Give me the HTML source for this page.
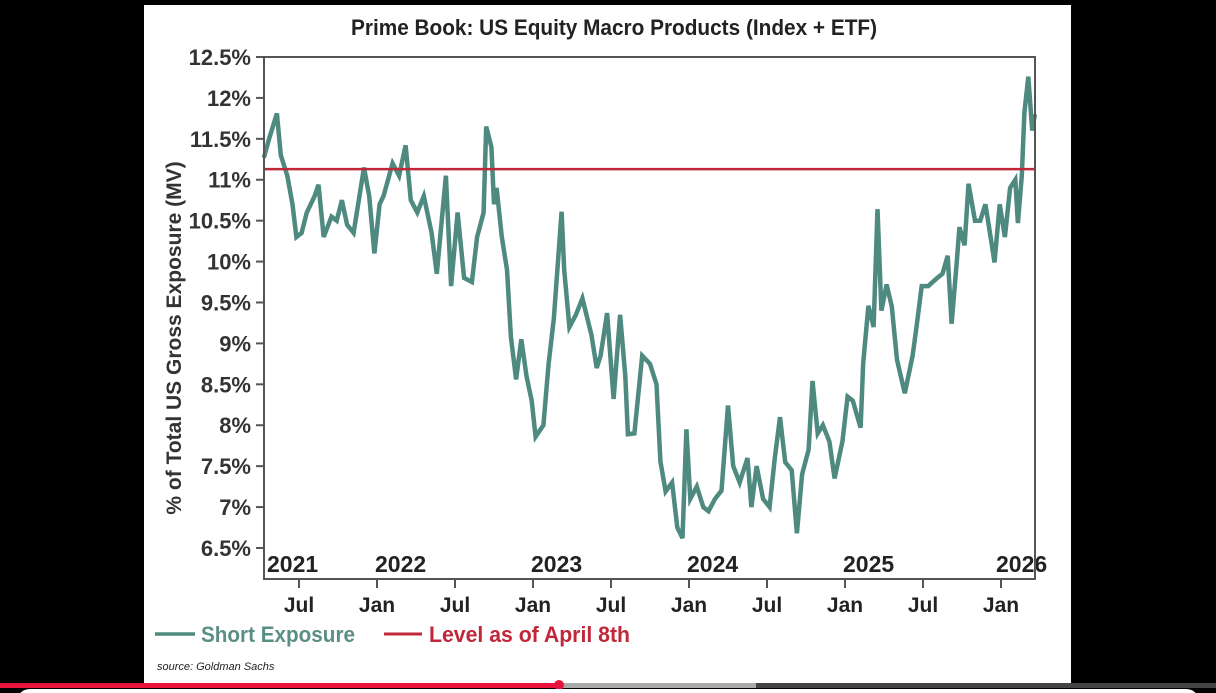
<!DOCTYPE html>
<html><head><meta charset="utf-8"><style>
html,body{margin:0;padding:0;background:#000;width:1216px;height:693px;overflow:hidden}
svg{display:block}
text{font-family:"Liberation Sans Narrow","Liberation Sans",sans-serif}
</style></head><body>
<svg id="chart" width="1216" height="693" viewBox="0 0 1216 693">
<rect x="0" y="0" width="1216" height="693" fill="#000"/>
<rect x="144" y="5" width="927" height="681" fill="#fff"/>
<text x="351" y="35" textLength="526" lengthAdjust="spacingAndGlyphs" font-size="22" font-weight="bold" fill="#222">Prime Book: US Equity Macro Products (Index + ETF)</text>
<text transform="translate(181,338) rotate(-90)" text-anchor="middle" font-size="21" font-weight="bold" fill="#333">% of Total US Gross Exposure (MV)</text>
<g id="yaxis"></g>
<g id="xaxis"></g>
<g id="plot"></g>
<rect x="264" y="57" width="771" height="522" fill="none" stroke="#555" stroke-width="2"/>
<g>
<line x1="155" y1="634" x2="195" y2="634" stroke="#4e8a80" stroke-width="3.5"/>
<text x="201" y="642" textLength="154" lengthAdjust="spacingAndGlyphs" font-size="22" font-weight="bold" fill="#5a8f86">Short Exposure</text>
<line x1="384" y1="634" x2="422" y2="634" stroke="#c0283a" stroke-width="3"/>
<text x="429" y="642" textLength="201" lengthAdjust="spacingAndGlyphs" font-size="22" font-weight="bold" fill="#c0283a">Level as of April 8th</text>
</g>
<text x="157" y="670" font-size="11" font-style="italic" fill="#222">source: Goldman Sachs</text>
<rect x="0" y="683" width="560" height="5" fill="#e8143c"/>
<rect x="560" y="683" width="196" height="5" fill="#aaa"/>
<rect x="756" y="683" width="460" height="5" fill="#444"/>
<circle cx="559" cy="685" r="5" fill="#e8143c"/>
<rect x="18" y="689" width="1180" height="20" rx="12" fill="#fff"/>
</svg>
<script>
const yTicks=[6.5,7,7.5,8,8.5,9,9.5,10,10.5,11,11.5,12,12.5];
const yTickLabels=["6.5%","7%","7.5%","8%","8.5%","9%","9.5%","10%","10.5%","11%","11.5%","12%","12.5%"];
const yearTicks=[3.3,12,24,36,48,60];
const yearLabels=["2021","2022","2023","2024","2025","2026"];
const monthTicks=[6,12,18,24,30,36,42,48,54,60];
const monthLabels=["Jul","Jan","Jul","Jan","Jul","Jan","Jul","Jan","Jul","Jan"];
const levelApril8=11.13;
const months=[3.3,3.7,4.3,4.6,5.1,5.5,5.8,6.2,6.6,7.2,7.5,7.9,8.5,8.9,9.3,9.7,10.2,11.0,11.4,11.8,12.2,12.5,13.2,13.7,14.2,14.6,15.1,15.6,16.2,16.6,17.3,17.7,18.2,18.7,19.3,19.7,20.2,20.4,20.8,21.0,21.2,21.6,22.0,22.3,22.7,23.1,23.5,23.9,24.2,24.8,25.2,25.6,26.2,26.4,26.8,27.3,27.8,28.5,28.9,29.2,29.7,30.2,30.7,31.1,31.3,31.8,32.4,33.0,33.5,33.8,34.2,34.7,35.1,35.5,35.8,36.1,36.6,37.1,37.5,38.0,38.5,39.0,39.4,39.9,40.5,40.8,41.2,41.7,42.2,42.6,43.0,43.4,43.9,44.3,44.7,45.2,45.5,45.9,46.3,46.8,47.2,47.8,48.2,48.6,49.2,49.4,49.8,50.2,50.5,50.8,51.2,51.6,52.0,52.6,53.2,53.5,53.9,54.4,55.1,55.5,55.9,56.2,56.6,56.8,57.2,57.5,58.0,58.4,58.8,59.2,59.5,59.9,60.3,60.7,61.1,61.3,61.6,61.8,62.1,62.4,62.6];
const shortExposure=[11.27,11.5,11.81,11.3,11.05,10.7,10.3,10.35,10.6,10.8,10.94,10.3,10.55,10.5,10.75,10.45,10.35,11.15,10.8,10.1,10.7,10.8,11.2,11.05,11.42,10.75,10.6,10.8,10.35,9.85,11.05,9.7,10.6,9.8,9.75,10.3,10.6,11.65,11.4,10.7,10.9,10.3,9.9,9.08,8.56,9.05,8.6,8.3,7.86,8.0,8.75,9.3,10.61,9.9,9.2,9.35,9.55,9.1,8.7,8.85,9.37,8.32,9.35,8.6,7.89,7.9,8.85,8.75,8.5,7.56,7.19,7.3,6.75,6.62,7.95,7.1,7.25,7.0,6.95,7.1,7.2,8.24,7.5,7.3,7.6,7.0,7.5,7.1,7.0,7.6,8.1,7.55,7.45,6.68,7.4,7.7,8.54,7.9,8.0,7.8,7.35,7.8,8.35,8.3,7.97,8.76,9.46,9.2,10.64,9.4,9.72,9.45,8.8,8.39,8.85,9.2,9.7,9.7,9.8,9.85,10.07,9.24,10.0,10.42,10.2,10.95,10.5,10.5,10.7,10.3,9.99,10.7,10.3,10.9,11.0,10.47,11.05,11.82,12.26,11.6,11.8];

const NS="http://www.w3.org/2000/svg";
function xs(t){return 221+t*13;}
function ys(v){return 57+(12.5-v)*81.83;}
function mk(tag,attrs,parent){const e=document.createElementNS(NS,tag);for(const k in attrs)e.setAttribute(k,attrs[k]);parent.appendChild(e);return e;}
const yaxis=document.getElementById('yaxis'),xaxis=document.getElementById('xaxis'),plot=document.getElementById('plot');
yTicks.forEach((v,i)=>{
  const l=mk('line',{x1:256,x2:264,y1:ys(v),y2:ys(v),stroke:'#555','stroke-width':2},yaxis);
  
  
  const t=mk('text',{x:251,y:ys(v)+8,'text-anchor':'end','font-size':22,'font-weight':'bold',fill:'#333'},yaxis);
  t.textContent=yTickLabels[i];
  
  
});
yearTicks.forEach((m,i)=>{
  const x=i===0?267:xs(m)+(i===5?-5:-2);
  const t=mk('text',{x:x,y:572,'font-size':23,'font-weight':'bold',fill:'#222'},xaxis);
  t.textContent=yearLabels[i];
  
  
});
monthTicks.forEach((m,i)=>{
  const l=mk('line',{x1:xs(m),x2:xs(m),y1:579,y2:588,stroke:'#555','stroke-width':2},xaxis);
  
  
  const t=mk('text',{x:xs(m),y:612,'text-anchor':'middle','font-size':21,'font-weight':'bold',fill:'#222'},xaxis);
  t.textContent=monthLabels[i];
  
  
});
let d='';
months.forEach((m,i)=>{d+=(i?'L':'M')+xs(m).toFixed(1)+','+ys(shortExposure[i]).toFixed(1);});
const p=mk('path',{d:d,fill:'none',stroke:'#4e8a80','stroke-width':4.5,'stroke-linejoin':'miter'},plot);


const r=mk('line',{x1:264,x2:1035,y1:ys(levelApril8),y2:ys(levelApril8),stroke:'#c0283a','stroke-width':2.5},plot);


</script>
</body></html>
